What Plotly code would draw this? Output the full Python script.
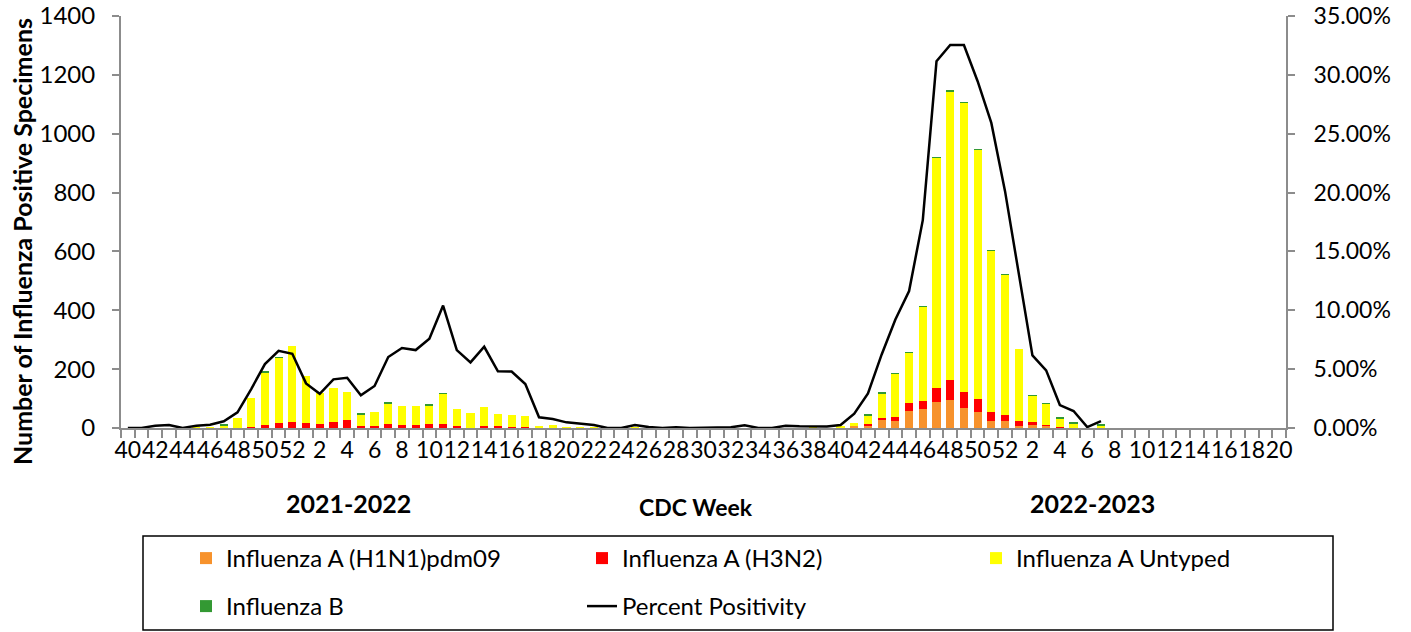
import plotly.graph_objects as go

# ---------------- data ----------------
weeks_2122 = list(range(40, 53)) + list(range(1, 40))
weeks_2223 = list(range(40, 53)) + list(range(1, 21))
season_labels = ["2021-2022", "2022-2023"]

h1n1_2122 = [0] * 52
h3n2_2122 = [0, 0, 0, 0, 0, 0, 0, 0, 0, 5, 11, 18, 21,
             18, 15, 21, 27, 7, 7, 15, 10, 10, 13, 15, 6, 1, 6, 6, 2, 3,
             0, 0, 0, 0, 0, 0, 0, 0, 0, 0, 0, 0, 0, 0, 0, 0, 0, 0, 0, 0, 0, 0]
untyped_2122 = [0, 0, 0, 0, 0, 1, 3, 9, 35, 96, 177, 220, 259,
                160, 104, 116, 94, 38, 46, 68, 66, 66, 63, 102, 60, 51, 65, 42, 43, 37,
                6, 9, 3, 3, 1, 0, 0, 2, 0, 0, 0, 0, 0, 0, 0, 0, 0, 2, 0, 0, 1, 0]
fluB_2122 = [0, 0, 0, 0, 0, 0, 0, 2, 0, 0, 3, 1, 0,
             0, 0, 0, 0, 3, 0, 2, 0, 0, 3, 1, 0, 0, 0, 0, 0, 0,
             0, 0, 0, 0, 0, 0, 0, 0, 0, 0, 0, 0, 0, 0, 0, 0, 0, 0, 0, 0, 0, 0]
pct_2122 = [0.0, 0.0, 0.2, 0.25, 0.0, 0.2, 0.28, 0.57, 1.33, 3.31, 5.43, 6.56, 6.31,
            3.79, 2.91, 4.13, 4.27, 2.77, 3.57, 6.03, 6.8, 6.62, 7.58, 10.4, 6.62, 5.57,
            6.9, 4.82, 4.8, 3.74, 0.91, 0.76, 0.48, 0.37, 0.25, 0.0, 0.0, 0.25, 0.08,
            0.0, 0.06, 0.0, 0.0, 0.0, 0.06, 0.23, 0.0, 0.0, 0.2, 0.14, 0.14, 0.12]

h1n1_2223 = [0, 8, 10, 28, 25, 58, 66, 88, 95, 68, 55, 23, 25,
             7, 11, 7, 1, 0, 0, 0] + [0] * 13
h3n2_2223 = [0, 0, 3, 7, 13, 27, 26, 48, 68, 55, 45, 31, 18,
             18, 9, 4, 4, 1, 0, 0] + [0] * 13
untyped_2223 = [5, 9, 31, 83, 146, 172, 320, 782, 982, 983, 845, 549, 479,
                242, 89, 71, 28, 15, 0, 8] + [0] * 13
fluB_2223 = [0, 0, 2, 2, 2, 1, 2, 2, 3, 1, 1, 1, 1,
             0, 2, 2, 1, 2, 0, 3] + [0] * 13
pct_2223 = [0.25, 1.22, 2.94, 6.25, 9.22, 11.63, 17.66, 31.15, 32.54, 32.54, 29.46, 25.92, 20.12,
            13.04, 6.17, 4.9, 1.95, 1.44, 0.08, 0.59] + [None] * 13

# ---------------- build ----------------
weeks = weeks_2122 + weeks_2223
seasons = [season_labels[0]] * len(weeks_2122) + [season_labels[1]] * len(weeks_2223)
cats = [f"{s} wk{w}" for s, w in zip(seasons, weeks)]
tick_text = [str(w) if i % 2 == 0 else "" for i, w in enumerate(weeks)]

FONT = "Lato"
AXIS_GRAY = "#8c8c8c"

fig = go.Figure()
series = [
    ("Influenza A (H1N1)pdm09", h1n1_2122 + h1n1_2223, "#F7922C", "legend"),
    ("Influenza A (H3N2)", h3n2_2122 + h3n2_2223, "#FF0000", "legend"),
    ("Influenza A Untyped", untyped_2122 + untyped_2223, "#FFFF00", "legend3"),
    ("Influenza B", fluB_2122 + fluB_2223, "#339933", "legend2"),
]
for name, vals, color, lg in series:
    fig.add_trace(go.Bar(x=cats, y=vals, name=name, marker=dict(color=color, line=dict(width=0)),
                         legend=lg))

fig.add_trace(go.Scatter(x=cats, y=pct_2122 + pct_2223, name="Percent Positivity", mode="lines",
                         line=dict(color="black", width=2.5), yaxis="y2", legend="legend2",
                         connectgaps=False))

PW, PH = 1165, 412  # plot area size in px (x 121..1286, y 16..428)

def lx(px):
    return (px - 121) / PW

def ly(py):
    return (428 - py) / PH

legend_common = dict(orientation="h", xanchor="left", yanchor="top", entrywidth=351,
                     entrywidthmode="pixels", font=dict(size=24, family=FONT),
                     bgcolor="rgba(0,0,0,0)", traceorder="normal")

fig.update_layout(
    width=1411, height=632,
    margin=dict(l=121, r=125, t=16, b=204, autoexpand=False),
    paper_bgcolor="white", plot_bgcolor="white",
    barmode="stack", bargap=0.4,
    font=dict(family=FONT, size=22, color="black"),
    xaxis=dict(
        type="category", tickmode="array", tickvals=cats, ticktext=tick_text,
        tickson="boundaries", ticks="outside", ticklen=8, tickwidth=2, tickcolor=AXIS_GRAY,
        showline=True, linecolor=AXIS_GRAY, linewidth=2, showgrid=False, tickangle=0,
        tickfont=dict(size=23, family=FONT), range=[-0.5, len(cats) - 0.5],
        automargin=False,
    ),
    yaxis=dict(
        range=[0, 1400], dtick=200, tick0=0, ticks="outside", ticklen=7, tickwidth=2,
        tickcolor=AXIS_GRAY, showline=True, linecolor=AXIS_GRAY, linewidth=2, showgrid=False,
        zeroline=False, tickfont=dict(size=24, family=FONT), ticklabelstandoff=12,
        automargin=False, ticklabeloverflow="allow",
    ),
    yaxis2=dict(
        range=[0, 35], dtick=5, tick0=0, overlaying="y", side="right", ticks="outside",
        ticklen=7, tickwidth=2, tickcolor=AXIS_GRAY, showline=True, linecolor=AXIS_GRAY,
        linewidth=2, showgrid=False, zeroline=False, tickformat=".2f", ticksuffix="%",
        tickfont=dict(size=23, family=FONT), ticklabelstandoff=14, automargin=False,
        ticklabeloverflow="allow",
    ),
    legend=dict(x=lx(186), y=ly(536), **legend_common),
    legend3=dict(x=lx(186 + 2 * 395), y=ly(536), **legend_common),
    legend2=dict(x=lx(186), y=ly(584), **legend_common),
    showlegend=True,
)

# legend frame
fig.add_shape(type="rect", xref="paper", yref="paper",
              x0=lx(143), x1=lx(1333), y0=ly(630), y1=ly(536),
              line=dict(color="black", width=1.5), fillcolor="rgba(0,0,0,0)")

# axis annotations
fig.add_annotation(text="<b>Number of Influenza Positive Specimens</b>", xref="paper", yref="paper",
                   x=lx(22), y=ly(242), textangle=-90, showarrow=False,
                   font=dict(size=25, family=FONT), xanchor="center", yanchor="middle")
fig.add_annotation(text="<b>2021-2022</b>", xref="paper", yref="paper",
                   x=lx(348), y=ly(503), xanchor="center", yanchor="middle",
                   showarrow=False, font=dict(size=25, family=FONT))
fig.add_annotation(text="<b>CDC Week</b>", xref="paper", yref="paper",
                   x=lx(696), y=ly(507), xanchor="center", yanchor="middle",
                   showarrow=False, font=dict(size=23, family=FONT))
fig.add_annotation(text="<b>2022-2023</b>", xref="paper", yref="paper",
                   x=lx(1092), y=ly(503), xanchor="center", yanchor="middle",
                   showarrow=False, font=dict(size=25, family=FONT))

fig.write_html("out.html", config={"displayModeBar": False},
               post_script="document.body.style.margin='0';")
